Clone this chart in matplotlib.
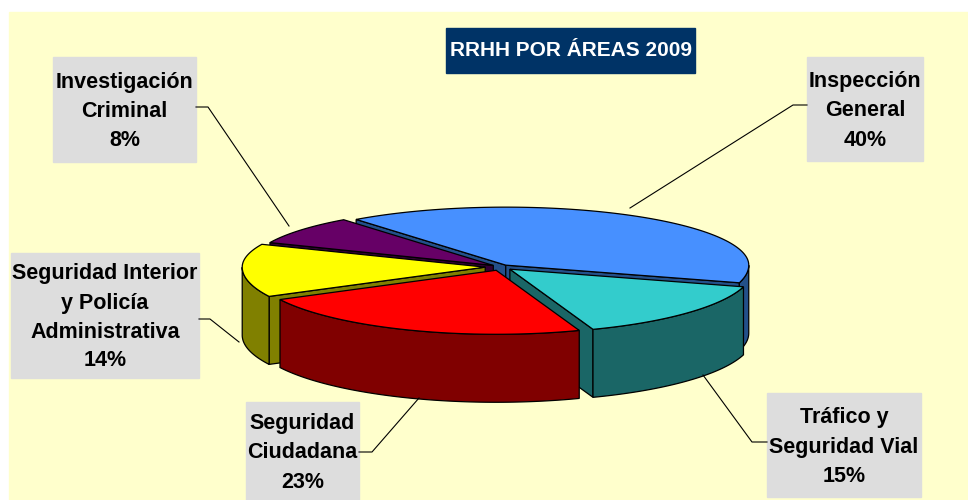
import matplotlib.pyplot as plt
import numpy as np
from matplotlib.patches import Polygon, Rectangle

# data
labels = ['Inspección\nGeneral', 'Tráfico y\nSeguridad Vial', 'Seguridad\nCiudadana',
          'Seguridad Interior\ny Policía\nAdministrativa', 'Investigación\nCriminal']
values = [40, 15, 23, 14, 8]
title = 'RRHH POR ÁREAS 2009'

top_colors = ['#4790FF', '#33CCCC', '#FF0000', '#FFFF00', '#660066']
side_colors = ['#23508A', '#1A6666', '#800000', '#808000', '#330033']
explode = [0.035, 0.05, 0.055, 0.065, 0.04]

# label boxes (x0, y0, x1, y1) in pixel coords and leader lines
boxes = [(807, 57, 923, 161), (767, 393, 921, 497), (246, 402, 359, 500),
         (11, 253, 199, 378), (53, 57, 196, 162)]
leaders = [[(807, 105), (793, 105), (630, 208)],
           [(767, 442), (752, 442), (703, 375)],
           [(359, 452), (372, 452), (419, 398)],
           [(199, 319), (210, 319), (239, 342)],
           [(196, 107), (208, 107), (289, 226)]]

plt.rcParams['font.family'] = ['Liberation Sans', 'DejaVu Sans']

fig = plt.figure(figsize=(9.68, 5.0), dpi=100)
fig.patch.set_facecolor('white')
ax = fig.add_axes([0, 0, 1, 1])
ax.set_xlim(0, 968)
ax.set_ylim(500, 0)
ax.axis('off')
ax.add_patch(Rectangle((9, 12), 959, 488, color='#FFFFCC', zorder=0))

# pie geometry (back half a little flatter to fake the perspective)
cx, cy, rx, h = 501, 267, 243, 68
ry_back, ry_front = 58, 64
start = 128.0
ec, lw = 'black', 0.9

frac = np.array(values, dtype=float) / sum(values)
a1s = start - 360 * np.concatenate([[0], np.cumsum(frac)[:-1]])
a2s = a1s - 360 * frac

def pt(t, ox, oy, r=1.0, z=0.0):
    tr = np.radians(t)
    s = np.sin(tr)
    ry = ry_back if s > 0 else ry_front
    return (cx + ox + r * rx * np.cos(tr), cy + oy - r * ry * s + z)

walls = []
tops = []
for i in range(len(values)):
    a1, a2 = a1s[i], a2s[i]
    mid = np.radians((a1 + a2) / 2)
    ox, oy = explode[i] * rx * np.cos(mid), -explode[i] * ry_front * np.sin(mid)
    ts = np.linspace(a2, a1, 200)
    # top face
    arc = [pt(t, ox, oy) for t in ts]
    tops.append((Polygon([pt(0, ox, oy, r=0)] + arc, closed=True), top_colors[i]))
    # outer wall, front-facing part only
    front = np.sin(np.radians(ts)) <= 0
    runs = []
    cur = []
    for t, f in zip(ts, front):
        if f:
            cur.append(t)
        elif cur:
            runs.append(cur)
            cur = []
    if cur:
        runs.append(cur)
    for run in runs:
        if len(run) < 2:
            continue
        upper = [pt(t, ox, oy) for t in run]
        lower = [pt(t, ox, oy, z=h) for t in run[::-1]]
        depth = np.mean([p[1] for p in upper])
        walls.append((depth, Polygon(upper + lower, closed=True), side_colors[i]))
    # radial cut faces
    for t, vis in [(a1, np.cos(np.radians(a1)) < 0), (a2, np.cos(np.radians(a2)) > 0)]:
        if not vis:
            continue
        p0 = pt(t, ox, oy, r=0)
        p1 = pt(t, ox, oy)
        poly = [p0, p1, (p1[0], p1[1] + h), (p0[0], p0[1] + h)]
        depth = (p0[1] + p1[1]) / 2
        walls.append((depth, Polygon(poly, closed=True), side_colors[i]))

for depth, poly, col in sorted(walls, key=lambda w: w[0]):
    poly.set_facecolor(col)
    poly.set_edgecolor(ec)
    poly.set_linewidth(lw)
    poly.set_zorder(2)
    ax.add_patch(poly)
for poly, col in tops:
    poly.set_facecolor(col)
    poly.set_edgecolor(ec)
    poly.set_linewidth(lw)
    poly.set_zorder(3)
    ax.add_patch(poly)

# labels
for i in range(len(values)):
    x0, y0, x1, y1 = boxes[i]
    ax.add_patch(Rectangle((x0, y0), x1 - x0, y1 - y0, color='#DDDDDD', zorder=4))
    ax.text((x0 + x1) / 2, (y0 + y1) / 2 + 2, f'{labels[i]}\n{values[i]}%',
            ha='center', va='center', fontsize=15.5, fontweight='bold',
            linespacing=1.5, zorder=5)
    xs, ys = zip(*leaders[i])
    ax.plot(xs, ys, color='black', lw=0.8, zorder=4)

# title
ax.add_patch(Rectangle((446, 28), 249, 45, color='#003366', zorder=4))
ax.text(570.5, 51, title, ha='center', va='center', color='white',
        fontsize=15, fontweight='bold', zorder=5)

fig.savefig('out.png', dpi=100, facecolor=fig.get_facecolor())
